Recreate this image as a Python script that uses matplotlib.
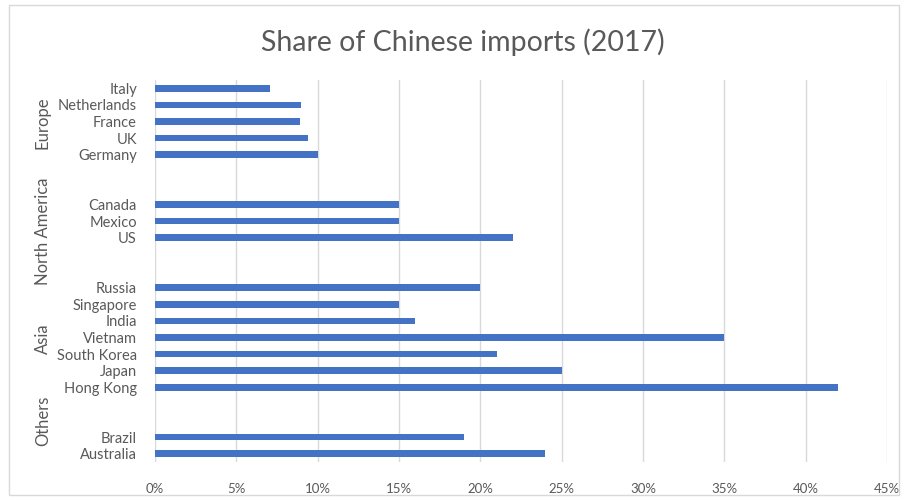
import matplotlib.pyplot as plt
from matplotlib.patches import Rectangle

# categories top to bottom, None = blank spacer row between groups
countries = ["Italy", "Netherlands", "France", "UK", "Germany", None, None,
             "Canada", "Mexico", "US", None, None,
             "Russia", "Singapore", "India", "Vietnam", "South Korea", "Japan", "Hong Kong",
             None, None,
             "Brazil", "Australia"]
shares = [7.1, 9.0, 8.9, 9.4, 10.0, None, None,
          15.0, 15.0, 22.0, None, None,
          20.0, 15.0, 16.0, 35.0, 21.0, 25.0, 42.0,
          None, None,
          19.0, 24.0]
groups = ["Europe", "North America", "Asia", "Others"]
group_rows = [2.1, 8.6, 15.1, 20.0]  # label centre, in row units

xticks = [0, 5, 10, 15, 20, 25, 30, 35, 40, 45]

bar_color = "#4472C4"
text_color = "#595959"
grid_color = "#D9D9D9"
font = ["Lato", "DejaVu Sans"]

fig = plt.figure(figsize=(9.08, 5.0), dpi=100)
ax = fig.add_axes([0.1707, 0.076, 0.8062, 0.764])

rows = [i for i, s in enumerate(shares) if s is not None]
vals = [shares[i] for i in rows]
ax.barh(rows, vals, height=0.4, color=bar_color, zorder=3)

ax.set_ylim(len(countries) - 0.5, -0.5)
ax.set_yticks(rows)
ax.set_yticklabels([countries[i] for i in rows], family=font, fontsize=10.5, color=text_color)

ax.set_xlim(0, 45)
ax.set_xticks(xticks)
ax.set_xticklabels([f"{t}%" for t in xticks], family=font, fontsize=9.5, color=text_color)
ax.grid(axis="x", color=grid_color, linewidth=1, zorder=0)
ax.tick_params(length=0)
ax.tick_params(axis="y", pad=13)
ax.tick_params(axis="x", pad=15)
for s in ax.spines.values():
    s.set_visible(False)

for g, r in zip(groups, group_rows):
    y = ax.transData.transform((0, r))[1]
    yf = fig.transFigure.inverted().transform((0, y))[1]
    fig.text(43 / 908, yf, g, rotation=90, ha="center", va="center",
             family=font, fontsize=12, color=text_color)

fig.text(0.51, 0.915, "Share of Chinese imports (2017)", ha="center", va="center",
         family=font, fontsize=20.5, color=text_color)

fig.patches.append(Rectangle((9 / 908, 5 / 500), 890 / 908, 490 / 500,
                             transform=fig.transFigure, fill=False,
                             edgecolor=grid_color, linewidth=1))

fig.savefig("out.png", dpi=100)
